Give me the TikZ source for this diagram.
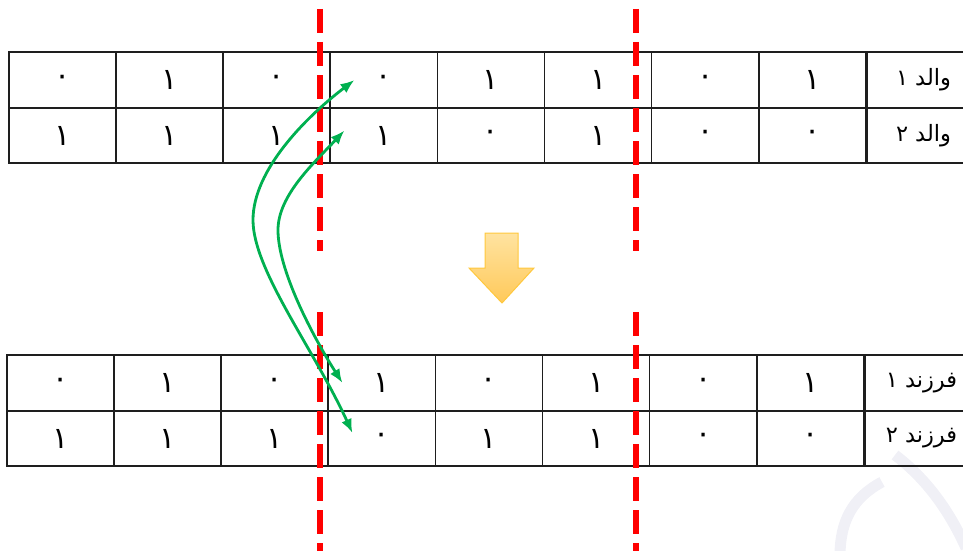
\documentclass[tikz,border=0pt]{standalone}
\usepackage{fontspec}
\usetikzlibrary{arrows.meta}
\TeXXeTstate=1
\newfontfamily\arabicfont[Script=Arabic]{DejaVu Sans}
\definecolor{tableline}{HTML}{1E1E1E}
\definecolor{cutred}{HTML}{FF0000}
\definecolor{swapgreen}{HTML}{00B050}
\definecolor{arrowtop}{HTML}{FFE3A0}
\definecolor{arrowbot}{HTML}{FFC95A}
\definecolor{arrowedge}{HTML}{FFC83D}
\definecolor{wmgray}{HTML}{F0F0F6}
\begin{document}
\begin{tikzpicture}[x=1pt,y=-1pt,
  cell/.style={draw=tableline,line width=1.7pt,minimum width=107.1pt,minimum height=55.5pt,
    inner sep=0pt,font=\arabicfont\fontsize{30}{34}\selectfont},
  labelcell/.style={cell,anchor=west,minimum width=112pt,font=\arabicfont\fontsize{22.5}{26}\selectfont},
  cutline/.style={draw=cutred,line width=6pt,dash pattern=on 24pt off 9pt},
  swap/.style={draw=swapgreen,line width=2.8pt,{Latex[length=14pt,width=11pt]}-{Latex[length=14pt,width=11pt]}},
  downarrow/.style={draw=arrowedge,line width=1pt,top color=arrowtop,bottom color=arrowbot},
  wm/.style={draw=wmgray,line width=11pt}]
\useasboundingbox (0,0) rectangle (963,551);
% watermark
\draw[wm] (840,556) .. controls (840,522) and (852,498) .. (882,482);
\draw[wm] (895,455) .. controls (925,478) and (948,508) .. (966,548);
% top table (parents)
\foreach \v [count=\c] in {۰,۱,۰,۰,۱,۱,۰,۱}
  \node[cell] (t-1-\c) at ({9+107.1*(\c-0.5)},80) {\v};
\foreach \v [count=\c] in {۱,۱,۱,۱,۰,۱,۰,۰}
  \node[cell] (t-2-\c) at ({9+107.1*(\c-0.5)},135.5) {\v};
\node[labelcell] (t-1-9) at (t-1-8.east) {\beginR والد ۱\endR};
\node[labelcell] (t-2-9) at (t-2-8.east) {\beginR والد ۲\endR};
% bottom table (children)
\foreach \v [count=\c] in {۰,۱,۰,۱,۰,۱,۰,۱}
  \node[cell] (b-1-\c) at ({7+107.1*(\c-0.5)},383) {\v};
\foreach \v [count=\c] in {۱,۱,۱,۰,۱,۱,۰,۰}
  \node[cell] (b-2-\c) at ({7+107.1*(\c-0.5)},438.5) {\v};
\node[labelcell] (b-1-9) at (b-1-8.east) {\beginR فرزند ۱\endR};
\node[labelcell] (b-2-9) at (b-2-8.east) {\beginR فرزند ۲\endR};
% cut points
\draw[cutline] (320,9) -- (320,251);
\draw[cutline] (636,9) -- (636,251);
\draw[cutline] (320,312) -- (320,560);
\draw[cutline] (636,312) -- (636,560);
% down arrow
\node[coordinate] (arrowtip) at (502,303) {};
\draw[downarrow] (485,233) -- (518,233) -- (518,268) -- (534,268) -- (arrowtip) -- (469,268) -- (485,268) -- cycle;
% swap arrows
\coordinate (o1) at ([xshift=25pt]t-1-4.west);
\coordinate (o2) at ([xshift=25pt,yshift=5.5pt]b-2-4.west);
\coordinate (i1) at ([xshift=15pt,yshift=5pt]t-2-4.west);
\coordinate (i2) at ([xshift=15pt]b-1-4.west);
\draw[swap] (o1) .. controls (306,117) and (253,170) .. (253,220)
  .. controls (253,270) and (314,349) .. (o2);
\draw[swap] (i1) .. controls (315,162) and (278,195) .. (278,230)
  .. controls (278,270) and (312,335) .. (i2);
\end{tikzpicture}
\end{document}
